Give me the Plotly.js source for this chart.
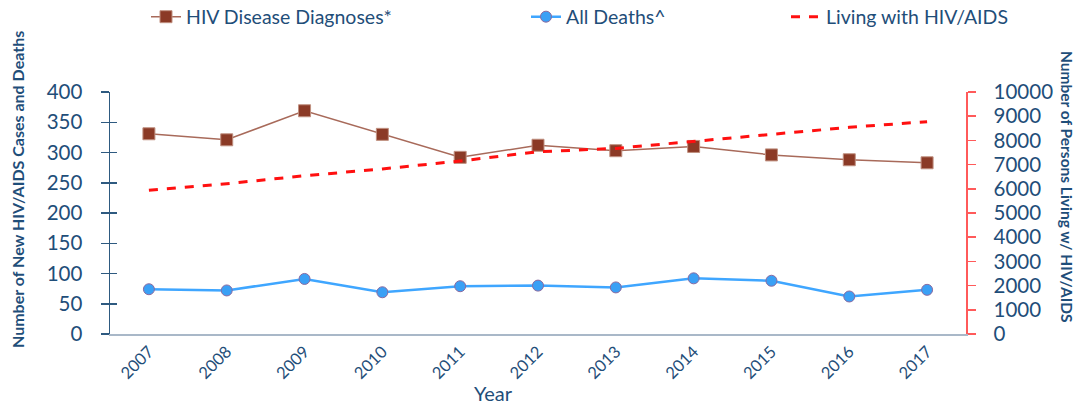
<!DOCTYPE html>
<html><head><meta charset="utf-8">
<script src="https://cdn.plot.ly/plotly-3.0.1.min.js"></script>
<style>html,body{margin:0;padding:0;background:#fff}#chart{width:1075px;height:408px}</style>
</head><body><div id="chart"></div>
<script>
const years = ['2007','2008','2009','2010','2011','2012','2013','2014','2015','2016','2017'];
const diagnoses = [331,321,369,330,292,312,303,310,296,288,283];
const deaths = [74,72,91,69,79,80,77,92,88,62,73];
const living = [5940,6210,6540,6820,7150,7530,7670,7975,8250,8540,8775];
const leftTicks = [0,50,100,150,200,250,300,350,400];
const rightTicks = [0,1000,2000,3000,4000,5000,6000,7000,8000,9000,10000];
const rightTickText = rightTicks.map(v => String(v));

const txt = '#1F4E79';
const fontFam = 'Lato, "Open Sans", sans-serif';

const traces = [
  {x: years, y: diagnoses, name: 'HIV Disease Diagnoses*', type: 'scatter', mode: 'lines+markers',
   line: {color: '#A86A5A', width: 1.5},
   marker: {symbol: 'square', size: 12, color: '#8B3A26', line: {color: '#C09080', width: 1}},
   legend: 'legend'},
  {x: years, y: deaths, name: 'All Deaths^', type: 'scatter', mode: 'lines+markers',
   line: {color: '#3FA6FF', width: 2.5},
   marker: {symbol: 'circle', size: 11, color: '#3AA0F5', line: {color: '#8A6AA0', width: 1}},
   legend: 'legend2'},
  {x: years, y: living, name: 'Living with HIV/AIDS', type: 'scatter', mode: 'lines',
   yaxis: 'y2', line: {color: '#FF1010', width: 3, dash: 'dash'},
   legend: 'legend3'},
  {x: [years[0]], y: [0], yaxis: 'y3', type: 'scatter', mode: 'markers', marker: {opacity: 0},
   showlegend: false, hoverinfo: 'skip'}
];

const legBase = {orientation: 'h', xref: 'container', yref: 'container', yanchor: 'middle', y: 1 - 17/408,
  bgcolor: 'rgba(0,0,0,0)', font: {family: fontFam, size: 19.5, color: txt}, itemwidth: 30};

const layout = {
  width: 1075, height: 408,
  margin: {l: 110, r: 109, t: 92, b: 74},
  paper_bgcolor: '#fff', plot_bgcolor: '#fff',
  showlegend: true,
  legend: Object.assign({}, legBase, {x: 146/1075, xanchor: 'left'}),
  legend2: Object.assign({}, legBase, {x: 526/1075, xanchor: 'left'}),
  legend3: Object.assign({}, legBase, {x: 786/1075, xanchor: 'left'}),
  xaxis: {type: 'category', range: [-0.5, 10.5], showgrid: false, zeroline: false,
    showline: true, linecolor: '#A9B8C8', linewidth: 1.5, ticks: '',
    tickangle: -45, tickfont: {family: fontFam, size: 16.5, color: txt}},
  yaxis: {range: [0, 400], tickvals: leftTicks, showgrid: false, zeroline: false,
    showline: true, linecolor: '#2E5A80', linewidth: 1.5,
    ticks: 'outside', ticklen: 8, tickcolor: '#2E5A80', tickwidth: 1.5, ticklabelstandoff: 14,
    tickfont: {family: fontFam, size: 20.5, color: txt}},
  yaxis3: {range: [0, 400], overlaying: 'y', side: 'left', showgrid: false, zeroline: false,
    ticks: 'inside', ticklen: 7, tickcolor: '#2E5A80', tickwidth: 1.5, tickvals: leftTicks,
    showticklabels: false, showline: false},
  yaxis2: {range: [0, 10000], tickvals: rightTicks, ticktext: rightTickText, overlaying: 'y', side: 'right',
    showgrid: false, zeroline: false, showline: true, linecolor: '#FF5A5A', linewidth: 1.5,
    ticks: 'outside', ticklen: 8, tickcolor: '#FF5A5A', tickwidth: 1.5, ticklabelstandoff: 14,
    tickfont: {family: fontFam, size: 20.5, color: txt}},
  annotations: [
    {text: '<b>Number of New HIV/AIDS Cases and Deaths</b>', xref: 'paper', yref: 'paper',
     x: (17 - 110) / 856, y: (334 - 190) / 242, xanchor: 'center', yanchor: 'middle', textangle: -90, showarrow: false,
     font: {family: fontFam, size: 16, color: txt}},
    {text: '<b>Number of Persons Living w/ HIV/AIDS</b>', xref: 'paper', yref: 'paper',
     x: (1067 - 110) / 856, y: (334 - 187) / 242, xanchor: 'center', yanchor: 'middle', textangle: 90, showarrow: false,
     font: {family: fontFam, size: 15.5, color: txt}},
    {text: 'Year', xref: 'paper', yref: 'paper', x: (493 - 110) / 856, y: (334 - 393) / 242,
     xanchor: 'center', yanchor: 'middle', showarrow: false,
     font: {family: fontFam, size: 20, color: txt}}
  ]
};
Plotly.newPlot('chart', traces, layout, {displayModeBar: false, staticPlot: true});
</script></body></html>
